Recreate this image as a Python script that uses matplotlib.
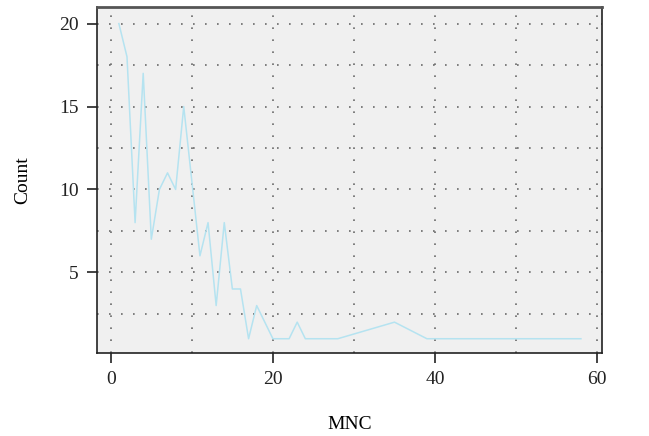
import matplotlib
matplotlib.use("Agg")
import matplotlib.pyplot as plt
from matplotlib.ticker import MultipleLocator

# MNC value vs. count
mnc = [1, 2, 3, 4, 5, 6, 7, 8, 9, 11, 12, 13, 14, 15, 16, 17, 18, 19, 20,
       21, 22, 23, 24, 26, 28, 35, 39, 42, 46, 50, 58]
count = [20, 18, 8, 17, 7, 10, 11, 10, 15, 6, 8, 3, 8, 4, 4, 1, 3, 2, 1,
         1, 1, 2, 1, 1, 1, 2, 1, 1, 1, 1, 1]

x_ticks = [0, 20, 40, 60]
y_ticks = [5, 10, 15, 20]

LINE_COLOR = "#B5E3F0"
GRID_COLOR = "#6a6a6a"
PANEL_BG = "#F0F0F0"

plt.rcParams["font.family"] = ["Liberation Serif", "DejaVu Serif"]

fig = plt.figure(figsize=(6.49, 4.36), dpi=100)
ax = fig.add_axes([97 / 649, 1 - 353 / 436, (602 - 97) / 649, (353 - 7) / 436])
ax.set_facecolor(PANEL_BG)

ax.plot(mnc, count, color=LINE_COLOR, linewidth=1.1, zorder=3)

ax.set_xlim(-1.7, 60.6)
ax.set_ylim(0.14, 21.0)

ax.xaxis.set_minor_locator(MultipleLocator(10))
ax.yaxis.set_minor_locator(MultipleLocator(2.5))
ax.set_xticks(x_ticks)
ax.set_yticks(y_ticks)

dots = (0, (1, 6.2))
ax.grid(which="both", color=GRID_COLOR, linestyle=dots, linewidth=1.2, zorder=1)
ax.set_axisbelow(True)

ax.tick_params(which="major", direction="out", length=7, width=1.2, colors="#222",
               labelsize=14, pad=6)
ax.tick_params(which="minor", length=0)
ax.tick_params(axis="y", pad=6)

for side in ["left", "bottom", "right"]:
    ax.spines[side].set_color("#222")
    ax.spines[side].set_linewidth(1.2)
ax.spines["top"].set_color("#555")
ax.spines["top"].set_linewidth(2)

ax.set_xlabel("MNC", fontsize=14, labelpad=20)
ax.set_ylabel("Count", fontsize=14, labelpad=20)

fig.savefig("out.png", dpi=100)
